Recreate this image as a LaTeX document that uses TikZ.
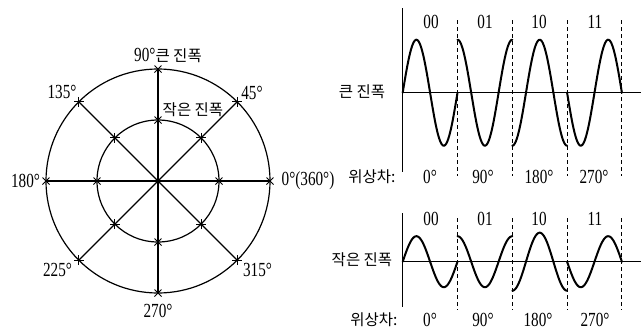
\documentclass[tikz,border=0pt]{standalone}
\usepackage{fontspec}
\usetikzlibrary{calc}
\setmainfont{Liberation Serif}[FakeStretch=0.76]
\newfontfamily\krfont{Noto Sans CJK KR}
\newfontfamily\nmfont{Liberation Serif}[FakeStretch=0.76]
\newcommand{\kr}[1]{{\krfont\fontsize{15.5}{17}\selectfont #1}}
\tikzset{
  num/.style={font=\nmfont\fontsize{20}{22}\selectfont, inner sep=0pt},
  kor/.style={font=\krfont\fontsize{15.5}{17}\selectfont, inner sep=0pt},
  circ/.style={line width=1.2pt},
  spoke/.style={line width=1.1pt},
  tick/.style={line width=0.9pt},
  axisline/.style={line width=1.2pt},
  wave/.style={line width=2pt, line cap=round},
  divider/.style={line width=0.9pt, dash pattern=on 4pt off 3pt},
}
\def\k{6.5693}
\begin{document}
\begin{tikzpicture}[x=1pt,y=-1pt]
\useasboundingbox (0,0) rectangle (641,330);
% ---------- polar diagram ----------
\coordinate (C) at (158,181);
\draw[circ] (C) circle[radius=112];
\draw[circ] (C) circle[radius=61];
\foreach \a in {0,45,90,135} {
  \draw[spoke] ($(C)+(\a:112)$) -- ($(C)+(\a+180:112)$);
}
\foreach \a in {0,45,...,315} {
  \foreach \rr in {112,61} {
    \begin{scope}[shift={($(C)+(\a:\rr)$)}, rotate=\a]
      \draw[tick] (-3.5,-3.5) -- (3.5,3.5) (-3.5,3.5) -- (3.5,-3.5);
    \end{scope}
  }
}
\node[num] (l90)  at (168,55)  {90°\kr{큰 진폭}};
\node[kor] (lsm)  at (193,110) {작은 진폭};
\node[num] (l135) at (62,92)   {135°};
\node[num] (l45)  at (252,93)  {45°};
\node[num] (l180) at (25.5,181){180°};
\node[num] (l0)   at (308,181) {0°(360°)};
\node[num] (l225) at (57.5,270){225°};
\node[num] (l315) at (257.5,270){315°};
\node[num] (l270) at (158,311) {270°};
% ---------- top waveform (large amplitude) ----------
\draw[axisline] (402.7,8) -- (402.7,172);
\draw[axisline] (402.7,92.7) -- (641,92.7);
\foreach \x in {457.5,512.3,567.1,621.9} {
  \draw[divider] (\x,20) -- (\x,176);
}
\draw[wave] plot[domain=0:54.8, samples=60, smooth] ({402.7+\x}, {92.7-53*sin(\k*\x)});
\draw[wave] plot[domain=0:54.8, samples=60, smooth] ({457.5+\x}, {92.7-53*cos(\k*\x)});
\draw[wave] plot[domain=0:54.8, samples=60, smooth] ({512.3+\x}, {92.7+53*cos(\k*\x)});
\draw[wave] plot[domain=0:54.8, samples=60, smooth] ({567.1+\x}, {92.7+53*sin(\k*\x)});
\node[kor] (big) at (362,92) {큰 진폭};
\node[num] (b1) at (431,22) {00};
\node[num] (b2) at (485,22) {01};
\node[num] (b3) at (539,22) {10};
\node[num] (b4) at (595,22) {11};
\node[kor] (ph1) at (372,177) {위상차:};
\node[num] (p1) at (430,177) {0°};
\node[num] (p2) at (483,177) {90°};
\node[num] (p3) at (539,177) {180°};
\node[num] (p4) at (594,177) {270°};
% ---------- bottom waveform (small amplitude) ----------
\draw[axisline] (402.7,213) -- (402.7,307);
\draw[axisline] (402.7,261.7) -- (641,261.7);
\foreach \x in {457.5,512.3,567.1,621.9} {
  \draw[divider] (\x,218) -- (\x,310);
}
\draw[wave] plot[domain=0:54.8, samples=60, smooth] ({402.7+\x}, {261.7-25.5*sin(\k*\x)});
\draw[wave] plot[domain=0:54.8, samples=60, smooth] ({457.5+\x}, {261.7-25.5*cos(\k*\x)});
\draw[wave] plot[domain=0:54.8, samples=60, smooth] ({512.3+\x}, {261.7+29*cos(\k*\x)});
\draw[wave] plot[domain=0:54.8, samples=60, smooth] ({567.1+\x}, {261.7+25.5*sin(\k*\x)});
\node[kor] (small) at (362,260) {작은 진폭};
\node[num] (c1) at (431,219) {00};
\node[num] (c2) at (485,219) {01};
\node[num] (c3) at (539,219) {10};
\node[num] (c4) at (595,219) {11};
\node[kor] (ph2) at (374,320) {위상차:};
\node[num] (q1) at (430,320) {0°};
\node[num] (q2) at (483,320) {90°};
\node[num] (q3) at (538,320) {180°};
\node[num] (q4) at (595,320) {270°};
\end{tikzpicture}
\end{document}
